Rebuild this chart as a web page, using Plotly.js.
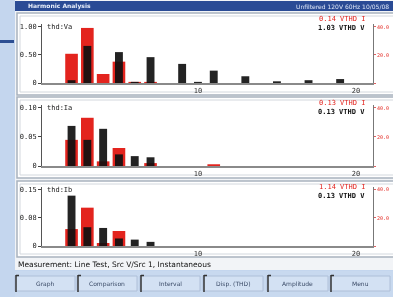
<!DOCTYPE html>
<html>
<head>
<meta charset="utf-8">
<script src="https://cdn.plot.ly/plotly-3.0.1.min.js"></script>
<style>
html,body{margin:0;padding:0;background:#c4d6ee;}
#chart{width:393px;height:297px;filter:blur(0.6px);}
</style>
</head>
<body>
<div id="chart"></div>
<script>
// Harmonic orders shown on the x axis
const harmonics = [2, 3, 4, 5, 6, 7, 9, 10, 11, 13, 15, 17, 19];

// Panel 1 (voltage a)
const panel1Red   = [0.52, 0.98, 0.16, 0.38, 0.02, 0.02, 0, 0, 0, 0, 0, 0, 0];
const panel1Black = [0.05, 0.66, 0.00, 0.55, 0.02, 0.46, 0.34, 0.02, 0.22, 0.12, 0.03, 0.05, 0.07];

// Panel 2
const panel2Red   = [0.045, 0.083, 0.008, 0.031, 0, 0.005, 0, 0, 0.003, 0, 0, 0, 0];
const panel2Black = [0.069, 0.045, 0.064, 0.020, 0.017, 0.015, 0, 0, 0, 0, 0, 0, 0];

// Panel 3
const panel3Red   = [0.045, 0.102, 0.008, 0.040, 0, 0, 0, 0, 0, 0, 0, 0, 0];
const panel3Black = [0.134, 0.050, 0.048, 0.020, 0.017, 0.011, 0, 0, 0, 0, 0, 0, 0];

// Axis tick labels
const xTickVals = [10, 20];
const xTickText = ["10", "20"];
const y1TickVals = [0, 0.5, 1.0];   const y1TickText = ["0", "0.50", "1.00"];
const y2TickVals = [0, 0.05, 0.10]; const y2TickText = ["0", "0.05", "0.10"];
const y3TickVals = [0, 0.075, 0.15]; const y3TickText = ["0", "0.08", "0.15"];
const rightTickText = ["", "20.0", "40.0"];

// Panel labels and readouts
const panelNames = ["thd:Va", "thd:Ia", "thd:Ib"];
const readRed = ["0.14 VTHD I", "0.13 VTHD I", "1.14 VTHD I"];
const readBlack = ["1.03 VTHD V", "0.13 VTHD V", "0.13 VTHD V"];

const statusText = "Measurement: Line Test, Src V/Src 1, Instantaneous";
const buttonLabels = ["Graph", "Comparison", "Interval", "Disp. (THD)", "Amplitude", "Menu"];
const windowTitle = "Harmonic Analysis";
const windowInfo = "Unfiltered 120V 60Hz 10/05/08";

const W = 393, H = 297;
const fx = p => p / W;
const fy = p => 1 - p / H;

const RED = "#e3241e", BLACK = "#101010";

function barPair(redVals, blackVals, xa, ya) {
  return [
    {type: "bar", x: harmonics, y: redVals, width: 0.8, marker: {color: RED, line: {width: 0}},
     xaxis: xa, yaxis: ya, hoverinfo: "skip"},
    {type: "bar", x: harmonics, y: blackVals, width: 0.5, marker: {color: BLACK, line: {width: 0}, opacity: 0.92},
     xaxis: xa, yaxis: ya, hoverinfo: "skip"}
  ];
}

const data = [].concat(
  barPair(panel1Red, panel1Black, "x", "y"),
  barPair(panel2Red, panel2Black, "x2", "y2"),
  barPair(panel3Red, panel3Black, "x3", "y3"),
  [{type: "scatter", x: [], y: [], xaxis: "x", yaxis: "y4", hoverinfo: "skip"},
   {type: "scatter", x: [], y: [], xaxis: "x2", yaxis: "y5", hoverinfo: "skip"},
   {type: "scatter", x: [], y: [], xaxis: "x3", yaxis: "y6", hoverinfo: "skip"}]
);

const xDom = [fx(42), fx(373)];
const xRange = [0.13, 21.08];
const panels = [
  {bottom: 83, top: 24, max: 1.05, tv: y1TickVals, tt: y1TickText, frame: [13, 95]},
  {bottom: 166, top: 105, max: 0.105, tv: y2TickVals, tt: y2TickText, frame: [97, 178]},
  {bottom: 246, top: 187, max: 0.157, tv: y3TickVals, tt: y3TickText, frame: [181, 257]}
];

const font = {family: "DejaVu Sans Mono, monospace", size: 7, color: "#222"};

const layout = {
  width: W, height: H,
  margin: {l: 0, r: 0, t: 0, b: 0},
  paper_bgcolor: "#c4d6ee",
  plot_bgcolor: "rgba(0,0,0,0)",
  showlegend: false,
  barmode: "overlay",
  font: font,
  shapes: [],
  annotations: []
};

panels.forEach((p, i) => {
  const n = i === 0 ? "" : String(i + 1);
  layout["xaxis" + n] = {
    domain: xDom, range: xRange, anchor: "y" + n,
    tickvals: xTickVals, ticktext: xTickText, ticks: "", ticklen: 0,
    showgrid: false, zeroline: false, showline: true, linecolor: "#8a8a8a", linewidth: 1.5,
    tickfont: {family: "DejaVu Sans Mono", size: 7, color: "#333"}, fixedrange: true
  };
  layout["yaxis" + n] = {
    domain: [fy(p.bottom), fy(p.top)], range: [0, p.max], anchor: "x" + n,
    tickvals: p.tv, ticktext: p.tt, ticks: "outside", ticklen: 3, tickcolor: "#444",
    showgrid: false, zeroline: false, showline: true, linecolor: "#555", linewidth: 1,
    tickfont: {family: "DejaVu Sans Mono", size: 7, color: "#222"}, fixedrange: true
  };
  layout["yaxis" + (i + 4)] = {
    overlaying: "y" + n, side: "right", anchor: "x" + n, range: [0, p.max],
    tickvals: p.tv, ticktext: rightTickText, ticks: "outside", ticklen: 2, tickcolor: "#e06060",
    showgrid: false, zeroline: false, showline: true, linecolor: "#777", linewidth: 1,
    tickfont: {family: "DejaVu Sans Mono", size: 5, color: RED}, fixedrange: true
  };
  // panel frame
  layout.shapes.push({type: "rect", xref: "paper", yref: "paper", layer: "below",
    x0: fx(17), x1: fx(395), y0: fy(p.frame[1]), y1: fy(p.frame[0]),
    fillcolor: "#ffffff", line: {color: "#a9b3bf", width: 1.5}});
  layout.shapes.push({type: "rect", xref: "paper", yref: "paper", layer: "below",
    x0: fx(20), x1: fx(395), y0: fy(p.frame[1] - 3), y1: fy(p.frame[0] + 3),
    fillcolor: "rgba(0,0,0,0)", line: {color: "#d3d8de", width: 1}});
  // panel name
  layout.annotations.push({xref: "paper", yref: "paper", x: fx(45), y: fy(p.top + 3),
    xanchor: "left", yanchor: "middle", showarrow: false, text: panelNames[i],
    font: {family: "DejaVu Sans Mono", size: 7, color: "#222"}});
  // readouts
  layout.annotations.push({xref: "paper", yref: "paper", x: fx(367), y: fy(p.frame[0] + 6),
    xanchor: "right", yanchor: "middle", showarrow: false, text: readRed[i],
    font: {family: "DejaVu Sans Mono", size: 7, color: RED}});
  layout.annotations.push({xref: "paper", yref: "paper", x: fx(367), y: fy(p.frame[0] + 15),
    xanchor: "right", yanchor: "middle", showarrow: false, text: "<b>" + readBlack[i] + "</b>",
    font: {family: "DejaVu Sans Mono", size: 7, color: "#111"}});
});

// window chrome
layout.shapes.unshift(
  {type: "rect", xref: "paper", yref: "paper", layer: "below", x0: fx(15), x1: 1, y0: fy(270), y1: 1,
   fillcolor: "#f2f4f7", line: {width: 0}},
  {type: "rect", xref: "paper", yref: "paper", layer: "below", x0: fx(15), x1: 1, y0: fy(11), y1: fy(1),
   fillcolor: "#2a4b95", line: {width: 0}},
  {type: "rect", xref: "paper", yref: "paper", layer: "below", x0: 0, x1: fx(14), y0: fy(43), y1: fy(40),
   fillcolor: "#2d4f93", line: {width: 0}},
  {type: "rect", xref: "paper", yref: "paper", layer: "below", x0: fx(15), x1: 1, y0: 0, y1: fy(271),
   fillcolor: "#c8d9ef", line: {width: 0}}
);
layout.annotations.push(
  {xref: "paper", yref: "paper", x: fx(26), y: fy(6), xanchor: "left", yanchor: "middle", showarrow: false,
   text: "<b>" + windowTitle + "</b>", font: {family: "DejaVu Sans", size: 6, color: "#e8eefa"}},
  {xref: "paper", yref: "paper", x: fx(391), y: fy(6), xanchor: "right", yanchor: "middle", showarrow: false,
   text: windowInfo, font: {family: "DejaVu Sans", size: 6, color: "#dfe7f7"}},
  {xref: "paper", yref: "paper", x: fx(16), y: fy(264), xanchor: "left", yanchor: "middle", showarrow: false,
   text: statusText, font: {family: "DejaVu Sans", size: 7.5, color: "#111"}}
);

// buttons
const btnX = [[15, 75], [77, 137], [140, 200], [203, 263], [267, 328], [330, 390]];
buttonLabels.forEach((lab, i) => {
  const [a, b] = btnX[i];
  layout.shapes.push({type: "rect", xref: "paper", yref: "paper", layer: "below",
    x0: fx(a), x1: fx(b), y0: fy(291), y1: fy(276), fillcolor: "#d3e1f3", line: {color: "#aebfd8", width: 1}});
  layout.shapes.push({type: "line", xref: "paper", yref: "paper", layer: "above",
    x0: fx(a + 1), x1: fx(a + 1), y0: fy(292), y1: fy(275), line: {color: "#333", width: 1.5}});
  layout.shapes.push({type: "line", xref: "paper", yref: "paper", layer: "above",
    x0: fx(a + 1), x1: fx(a + 4), y0: fy(275.5), y1: fy(275.5), line: {color: "#333", width: 1.5}});
  layout.annotations.push({xref: "paper", yref: "paper", x: fx((a + b) / 2), y: fy(283.5),
    xanchor: "center", yanchor: "middle", showarrow: false, text: lab,
    font: {family: "DejaVu Sans", size: 6, color: "#3a4a66"}});
});

Plotly.newPlot("chart", data, layout, {staticPlot: true, displayModeBar: false});
</script>
</body>
</html>
